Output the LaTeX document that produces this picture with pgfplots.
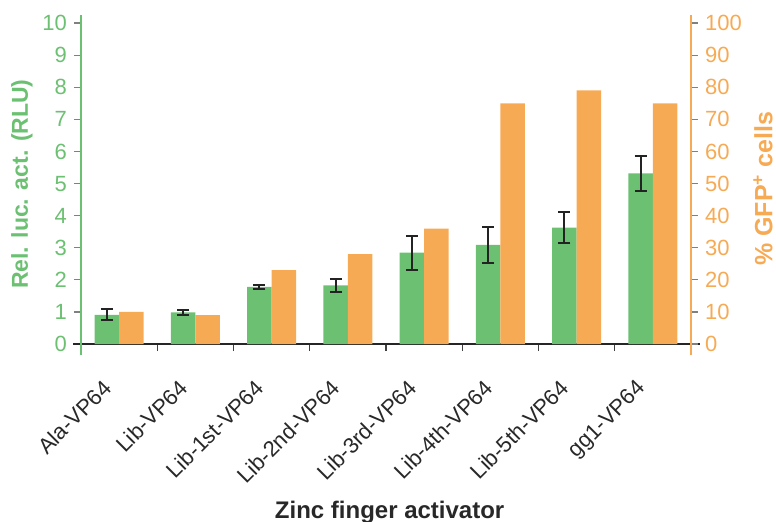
\documentclass[border=0pt]{standalone}
\usepackage{fontspec}
\setmainfont{Liberation Sans}
\usepackage{pgfplots}
\pgfplotsset{compat=1.18}
\definecolor{cgreen}{RGB}{108,192,114}
\definecolor{corange}{RGB}{247,170,84}
\definecolor{cerr}{RGB}{35,35,35}
\definecolor{ctext}{RGB}{40,40,40}
\begin{document}
\begin{tikzpicture}
\pgfplotsset{
 common/.style={
  scale only axis, width=305pt, height=169.8pt,
  xmin=-0.5, xmax=7.5,
  /pgf/number format/assume math mode=true,
  tick label style={font=\fontsize{11}{13}\selectfont},
  major tick length=3.5pt,
  minor tick length=3.5pt,
  ytick align=outside,
  ybar, bar width=0.32,
 }
}
\begin{axis}[common,
  ymin=-0.34, ymax=10.24,
  axis y line*=left, axis x line=middle,
  y axis line style={cgreen, line width=1pt, -},
  x axis line style={-, black!85, line width=1pt, shorten <=-4pt, shorten >=-4.5pt},
  ytick={0,...,10},
  yticklabel style={text=cgreen},
  y tick style={gray, line width=0.6pt},
  xtick={0,...,7},
  xticklabels={Ala-VP64, Lib-VP64, Lib-1st-VP64, Lib-2nd-VP64, Lib-3rd-VP64, Lib-4th-VP64, Lib-5th-VP64, gg1-VP64},
  major x tick style={draw=none},
  minor xtick={0.5,1.5,...,6.5},
  minor x tick style={black!75, line width=0.6pt},
  xtick align=outside,
  xticklabel style={anchor=north east, text=ctext, xshift=-8.8pt, yshift=-8.7pt, rotate=45},
  xlabel={Zinc finger activator},
  xlabel style={font=\fontsize{12}{14}\bfseries\selectfont, text=ctext, at={(axis description cs:0.506,-0.462)}, anchor=center},
  ylabel={Rel. luc. act. (RLU)},
  ylabel style={font=\fontsize{11.5}{13}\bfseries\selectfont, text=cgreen, at={(axis description cs:-0.0967,0.503)}, anchor=center},
]
\addplot[fill=cgreen, draw=none, bar shift=-0.16,
  error bars/.cd, y dir=both, y explicit,
  error bar style={draw=cerr, line width=1pt},
  error mark=|,
  error mark options={draw=cerr, line width=1pt, mark size=3pt}]
 coordinates {
 (0,0.91) +- (0,0.17)
 (1,0.99) +- (0,0.08)
 (2,1.78) +- (0,0.07)
 (3,1.83) +- (0,0.20)
 (4,2.85) +- (0,0.53)
 (5,3.09) +- (0,0.57)
 (6,3.63) +- (0,0.48)
 (7,5.32) +- (0,0.55)
 };
\end{axis}
\begin{axis}[common,
  ymin=-3.4, ymax=102.4,
  axis y line*=right, axis x line=none,
  y axis line style={corange, line width=1pt, -},
  ytick={0,10,...,100},
  yticklabel style={text=corange},
  y tick style={gray, line width=0.6pt},
  xtick=\empty,
  ylabel={\% GFP\textsuperscript{+} cells},
  ylabel style={font=\fontsize{12.5}{14}\bfseries\selectfont, text=corange, at={(axis description cs:1.118,0.49)}, anchor=center},
]
\addplot[fill=corange, draw=none, bar shift=0.16]
 coordinates {(0,10) (1,9) (2,23) (3,28) (4,36) (5,75) (6,79) (7,75)};
\end{axis}
\pgfresetboundingbox
\path[use as bounding box] (-40.5pt,-83.5pt) rectangle (347.5pt,177.5pt);
\end{tikzpicture}
\end{document}
